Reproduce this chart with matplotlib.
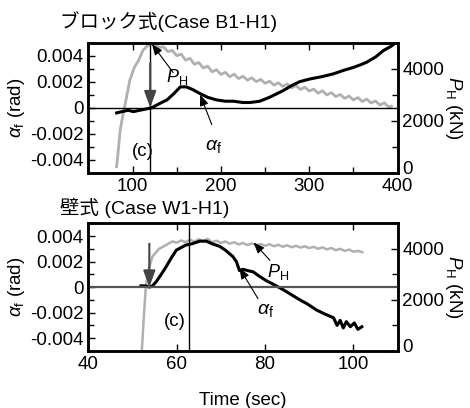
import numpy as np
import matplotlib
matplotlib.use('Agg')
from matplotlib import pyplot as plt
from matplotlib import transforms
from matplotlib.ticker import MultipleLocator

plt.rcParams['font.family'] = ['Liberation Sans', 'Noto Sans CJK JP']
plt.rcParams['mathtext.fontset'] = 'custom'
plt.rcParams['mathtext.rm'] = 'Liberation Sans'
plt.rcParams['mathtext.it'] = 'Liberation Sans:italic'
plt.rcParams['font.size'] = 13.5

# ---- top panel: block type (Case B1-H1)
b_ph_t = [82, 84, 86, 89, 92, 97, 102, 107, 112, 117, 122,
          125, 130, 135, 140, 145, 150, 155, 160, 165, 170, 175, 180, 185, 190,
          195, 200, 205, 210, 215, 220, 225, 230, 235, 240, 245, 250, 255, 260,
          265, 270, 275, 280, 285, 290, 295, 300, 305, 310, 315, 320, 325, 330,
          335, 340, 345, 350, 355, 360, 365, 370, 375, 380, 385, 390, 393]
b_ph = [230, 900, 1640, 2200, 2700, 3570, 4050, 4330, 4720, 4880, 4990,
        4990, 4820, 4840, 4660, 4700, 4500, 4560, 4330, 4400, 4170, 4240, 4030, 4100, 3880,
        3960, 3780, 3860, 3690, 3790, 3620, 3710, 3560, 3650, 3500, 3590, 3440, 3520, 3370,
        3460, 3320, 3410, 3260, 3350, 3200, 3290, 3140, 3220, 3060, 3150, 2990, 3080, 2930,
        3010, 2860, 2950, 2800, 2890, 2740, 2830, 2680, 2760, 2600, 2690, 2520, 2560]

b_af_t = [82, 88, 95, 101, 108, 115, 122, 130, 139, 147, 154, 161, 168, 176, 185,
          195, 205, 214, 225, 233, 244, 255, 270, 280, 289, 300, 315, 327, 340,
          350, 358, 365, 375, 384, 392, 398]
b_af = [-0.0004, -0.0003, -0.0002, -0.0003, -0.0002, -0.0001, 0.0000, 0.0003, 0.0006,
        0.0011, 0.0016, 0.0016, 0.0014, 0.0011, 0.0008, 0.0006, 0.0005, 0.0005, 0.0004,
        0.0004, 0.0005, 0.0008, 0.0013, 0.0017, 0.0020, 0.0022, 0.0024, 0.0026, 0.0029,
        0.0031, 0.0033, 0.0035, 0.0039, 0.0044, 0.0047, 0.0050]

# ---- bottom panel: wall type (Case W1-H1)
w_ph_t = [52.1, 52.5, 53, 53.5, 54.5, 56, 57.6, 59, 60, 61, 62, 63, 64, 65, 66, 67,
          68, 69, 70, 71, 72, 73, 74, 75, 76, 77, 78, 79, 80, 81, 82, 83, 84, 85,
          86, 87, 88, 89, 90, 91, 92, 93, 94, 95, 96, 97, 98, 99, 100, 101, 102]
w_ph = [0, 1200, 2500, 3100, 3700, 4000, 4150, 4290, 4240, 4330, 4260, 4360, 4280,
        4380, 4300, 4390, 4260, 4320, 4230, 4290, 4200, 4260, 4170, 4230, 4150, 4210,
        4140, 4190, 4120, 4180, 4100, 4160, 4080, 4140, 4060, 4120, 4050, 4100, 4030,
        4080, 4000, 4060, 3980, 4030, 3950, 4000, 3920, 3970, 3890, 3920, 3870]

w_af_t = [51.9, 53, 53.8, 54.5, 55.3, 56.5, 57.6, 58.8, 59.9, 61, 62.1, 63.5, 65.2,
          66.7, 68, 69.7, 71, 72.7, 73.5, 74.2, 75, 76, 77.3, 78.5, 80.3, 82, 84.1,
          86, 87.9, 89.5, 91.7, 93.5, 95.5, 96.3, 97, 97.7, 98.4, 99.3, 100.2, 101, 101.9]
w_af = [0.0001, 0.0001, 0.0000, 0.0001, 0.0004, 0.0010, 0.0016, 0.0023, 0.0029,
        0.0031, 0.0033, 0.0034, 0.0036, 0.0036, 0.0034, 0.0032, 0.0029, 0.0024,
        0.0020, 0.0013, 0.0014, 0.0013, 0.0012, 0.0009, 0.0005, 0.0002, -0.0002,
        -0.0006, -0.0010, -0.0013, -0.0018, -0.0021, -0.0024, -0.0030, -0.0026,
        -0.0032, -0.0027, -0.0031, -0.0028, -0.0033, -0.0031]

GRAY = '#b0b0b0'


def setupAxes(fig, ax, tw, xlim, xmaj, xmin):
  ax.set_xlim(xlim)
  ax.set_ylim(-0.005, 0.005)
  tw.set_ylim(0, 5000)
  ax.xaxis.set_major_locator(MultipleLocator(xmaj))
  if xmin is not None:
    ax.xaxis.set_minor_locator(MultipleLocator(xmin))
  ax.yaxis.set_major_locator(MultipleLocator(0.002))
  ax.yaxis.set_minor_locator(MultipleLocator(0.001))
  tw.yaxis.set_major_locator(MultipleLocator(2000))
  tw.yaxis.set_minor_locator(MultipleLocator(1000))
  ax.set_yticks([-0.004, -0.002, 0, 0.002, 0.004])
  ax.set_yticklabels(['-0.004', '-0.002', '0', '0.002', '0.004'])
  ax.tick_params(which='both', direction='in', top=True, right=False, width=1)
  ax.tick_params(which='major', length=5)
  ax.tick_params(which='minor', length=4)
  tw.tick_params(which='both', direction='in', width=1)
  tw.tick_params(which='major', length=5)
  tw.tick_params(which='minor', length=4)
  for a in (ax, tw):
    for s in a.spines.values():
      s.set_linewidth(1.8)
  ax.set_ylabel(r'$\alpha_{\rm f}$ (rad)', labelpad=2)
  tw.set_ylabel(r'$P_{\rm H}$ (kN)', rotation=270, labelpad=14)
  ax.set_zorder(tw.get_zorder() + 1)
  ax.patch.set_visible(False)
  # lift the right-hand "0" a little off the corner
  lift = transforms.ScaledTranslation(0, 4 / 72., fig.dpi_scale_trans)
  fig.canvas.draw()
  lab0 = tw.get_yticklabels()[1] if tw.get_yticklabels()[0].get_text() == '' else tw.get_yticklabels()[0]
  for lab in tw.get_yticklabels():
    if lab.get_text() == '0':
      lab.set_transform(lab.get_transform() + lift)


def bigArrow(ax, x, y0, y1, col):
  ax.annotate('', xy=(x, y1), xytext=(x, y0),
              arrowprops=dict(arrowstyle='-|>,head_length=0.55,head_width=0.2',
                              mutation_scale=18, color=col, lw=1.5, shrinkA=0, shrinkB=0))


def smallArrow(ax, xy, xytext):
  ax.annotate('', xy=xy, xytext=xytext,
              arrowprops=dict(arrowstyle='-|>,head_length=0.55,head_width=0.22',
                              mutation_scale=12, color='k', lw=0.8, shrinkA=0, shrinkB=0))


fig = plt.figure(figsize=(4.7, 4.08), dpi=100)

# top
ax1 = fig.add_axes([0.188, 0.5767, 0.658, 0.3186])
tw1 = ax1.twinx()
tw1.plot(b_ph_t, b_ph, color=GRAY, lw=2)
ax1.plot(b_af_t, b_af, color='k', lw=2.2)
ax1.axhline(0, color='k', lw=1)
ax1.axvline(120, color='k', lw=1)
setupAxes(fig, ax1, tw1, (50, 400), 100, 50)
bigArrow(ax1, 120, 0.0034, 0.0000, '#444444')
smallArrow(ax1, (122, 0.0049), (146, 0.0027))
ax1.text(150, 0.0024, r'$P_{\rm H}$', ha='center', va='center', fontsize=13)
smallArrow(ax1, (176.5, 0.0010), (189.7, -0.0013))
ax1.text(192, -0.0030, r'$\alpha_{\rm f}$', ha='center', va='center', fontsize=14)
ax1.text(112, -0.0034, '(c)', ha='center', va='center')
fig.text(0.128, 0.947, 'ブロック式(Case B1-H1)', ha='left', va='center', fontsize=14)

# bottom
ax2 = fig.add_axes([0.188, 0.1397, 0.658, 0.313])
tw2 = ax2.twinx()
tw2.plot(w_ph_t, w_ph, color=GRAY, lw=1.8)
ax2.plot(w_af_t, w_af, color='k', lw=2.2)
ax2.axhline(0, color='#555555', lw=1.6)
ax2.axvline(62.7, color='k', lw=1)
setupAxes(fig, ax2, tw2, (40, 110), 20, None)
bigArrow(ax2, 53.8, 0.0034, 0.0000, '#444444')
smallArrow(ax2, (77.4, 0.0035), (81.1, 0.0021))
ax2.text(83, 0.0012, r'$P_{\rm H}$', ha='center', va='center', fontsize=13)
smallArrow(ax2, (74.2, 0.0015), (78.4, -0.0009))
ax2.text(80, -0.0018, r'$\alpha_{\rm f}$', ha='center', va='center', fontsize=14)
ax2.text(59.5, -0.0027, '(c)', ha='center', va='center')
ax2.set_xlabel('Time (sec)', labelpad=14)
fig.text(0.128, 0.49, '壁式 (Case W1-H1)', ha='left', va='center', fontsize=14)

fig.savefig('out.png', dpi=100)
